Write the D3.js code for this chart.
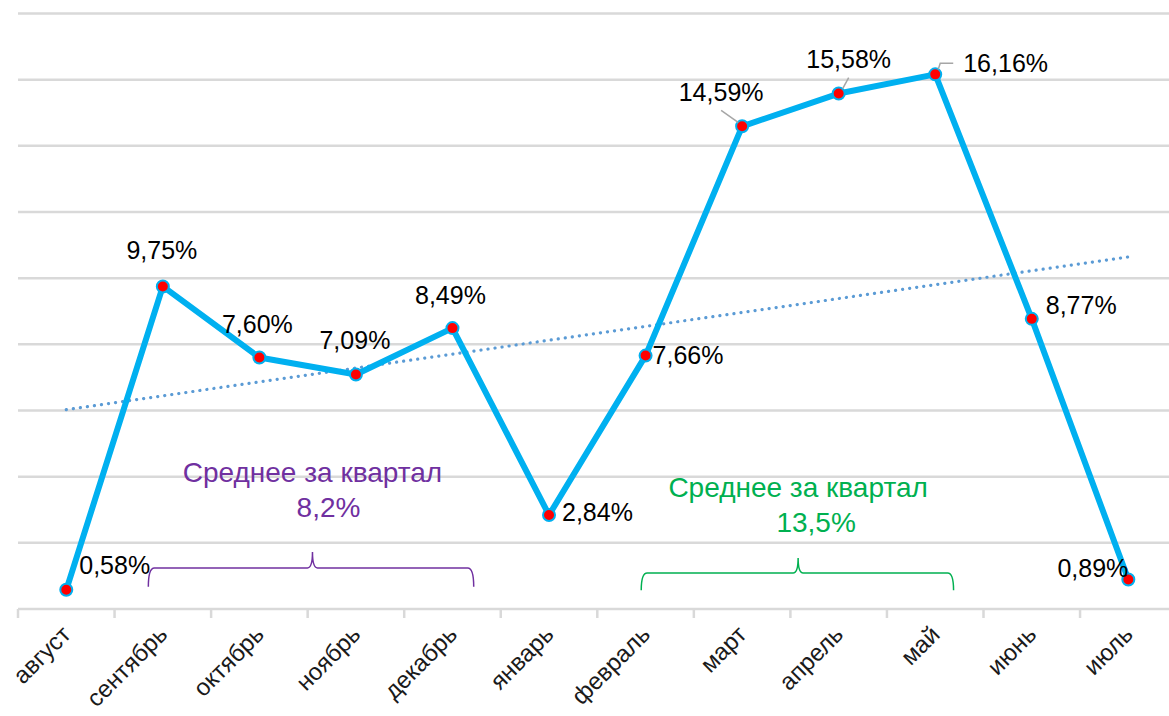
<!DOCTYPE html>
<html>
<head>
<meta charset="utf-8">
<script src="https://cdn.jsdelivr.net/npm/d3@7"></script>
<style>
  body { margin: 0; background: #fff; }
  text { font-family: 'Liberation Sans', Arial, Helvetica, sans-serif; }
</style>
</head>
<body>
<div id="chart"></div>
<script>
const months = ['август', 'сентябрь', 'октябрь', 'ноябрь', 'декабрь', 'январь',
  'февраль', 'март', 'апрель', 'май', 'июнь', 'июль']
const values = [0.58, 9.75, 7.60, 7.09, 8.49, 2.84, 7.66, 14.59, 15.58, 16.16, 8.77, 0.89]
const yTicks = [0, 2, 4, 6, 8, 10, 12, 14, 16, 18]

// quarter annotations (positions in month-index / value units)
const quarterTitles = ['Среднее за квартал', 'Среднее за квартал']
const quarterAverages = ['8,2%', '13,5%']
const quarterFrom = [0.85, 5.955]
const quarterTo = [4.22, 9.19]
const quarterPeak = [2.55, 7.58]

const W = 1169
const H = 716
const margin = { left: 18, top: 13.5 }
const bandW = 96.55
const plotH = 595.5

const svg = d3.select('#chart')
  .append('svg')
  .attr('width', W)
  .attr('height', H)

const x = d3.scaleBand()
  .domain(months)
  .range([margin.left, margin.left + bandW * months.length])
  .padding(0)

const y = d3.scaleLinear()
  .domain([0, 18])
  .range([margin.top + plotH, margin.top])

const cx = d => x(d) + x.bandwidth() / 2
const xi = d3.scaleLinear().domain([0, months.length - 1]).range([cx(months[0]), cx(months[months.length - 1])])

// gridlines
svg.append('g')
  .selectAll('line')
  .data(yTicks)
  .join('line')
    .attr('x1', margin.left)
    .attr('x2', W)
    .attr('y1', d => y(d))
    .attr('y2', d => y(d))
    .attr('stroke', '#d9d9d9')
    .attr('stroke-width', 2.5)

// category axis: ticks between categories
const axisY = y(0)
svg.append('g')
  .selectAll('line')
  .data(months)
  .join('line')
    .attr('x1', d => x(d))
    .attr('x2', d => x(d))
    .attr('y1', axisY)
    .attr('y2', axisY + 9)
    .attr('stroke', '#d9d9d9')
    .attr('stroke-width', 2.5)

svg.append('g')
  .selectAll('text')
  .data(months)
  .join('text')
    .attr('transform', d => `translate(${cx(d) + 6}, ${axisY + 27}) rotate(-45)`)
    .attr('text-anchor', 'end')
    .attr('font-size', '24px')
    .attr('fill', '#1a1a1a')
    .text(d => d)

// trend line (least squares)
const idx = values.map((v, i) => i)
const mx = d3.mean(idx)
const my = d3.mean(values)
const slope = d3.sum(idx, i => (i - mx) * (values[i] - my)) / d3.sum(idx, i => (i - mx) ** 2)
const icpt = my - slope * mx
svg.append('line')
  .attr('x1', xi(0))
  .attr('y1', y(icpt))
  .attr('x2', xi(months.length - 1))
  .attr('y2', y(icpt + slope * (months.length - 1)))
  .attr('stroke', '#5b9bd5')
  .attr('stroke-width', 3.2)
  .attr('stroke-linecap', 'round')
  .attr('stroke-dasharray', '0.1 7')

// main line
const line = d3.line()
  .x((d, i) => cx(months[i]))
  .y(d => y(d))

svg.append('path')
  .datum(values)
  .attr('d', line)
  .attr('fill', 'none')
  .attr('stroke', '#00b0f0')
  .attr('stroke-width', 6)
  .attr('stroke-linejoin', 'round')

svg.append('g')
  .selectAll('circle')
  .data(values)
  .join('circle')
    .attr('cx', (d, i) => cx(months[i]))
    .attr('cy', d => y(d))
    .attr('r', 6)
    .attr('fill', '#ff0000')
    .attr('stroke', '#00b0f0')
    .attr('stroke-width', 2)

// data label placement: [dx, dy, anchor]
const place = [
  [13, -16, 'start'], [-1, -27, 'middle'], [-2, -25, 'middle'], [-1, -25, 'middle'],
  [-2, -24, 'middle'], [13, 6, 'start'], [7, 8, 'start'], [-21, -25, 'middle'],
  [10, -26, 'middle'], [28, -2, 'start'], [14, -5, 'start'], [0, -3, 'end']
]
const fmt = v => v.toFixed(2).replace('.', ',') + '%'

// leader lines for the three top labels
const leaders = { 7: [[-21, -16], [-4, -4]], 8: [[10, -16], [4, -5]], 9: [[3, -5], [5, -11], [18, -11]] }
Object.entries(leaders).forEach(([i, pts]) => {
  const px = cx(months[i])
  const py = y(values[i])
  svg.append('path')
    .attr('d', d3.line()(pts.map(p => [px + p[0], py + p[1]])))
    .attr('fill', 'none')
    .attr('stroke', '#a6a6a6')
    .attr('stroke-width', 1.5)
})

svg.append('g')
  .selectAll('text')
  .data(values)
  .join('text')
    .attr('x', (d, i) => cx(months[i]) + place[i][0])
    .attr('y', (d, i) => y(d) + place[i][1])
    .attr('text-anchor', (d, i) => place[i][2])
    .attr('font-size', '25px')
    .attr('fill', '#000')
    .text(fmt)

// quarter braces
const qColors = ['#7030a0', '#00b050']
const braceLine = [1.24, 1.09]
const braceEnd = [0.67, 0.57]
const bracePeakV = [1.72, 1.54]
const titleDx = [0, 0]
const avgDx = [16, 18]
const titleY = [482, 497]

quarterTitles.forEach((t, q) => {
  const x0 = xi(quarterFrom[q])
  const x1 = xi(quarterTo[q])
  const xm = xi(quarterPeak[q])
  const yl = y(braceLine[q])
  const ye = y(braceEnd[q])
  const yp = y(bracePeakV[q])
  const p = d3.path()
  p.moveTo(x0, ye)
  p.quadraticCurveTo(x0, yl, x0 + 6, yl)
  p.lineTo(xm - 5, yl)
  p.quadraticCurveTo(xm, yl, xm, yp)
  p.quadraticCurveTo(xm, yl, xm + 5, yl)
  p.lineTo(x1 - 6, yl)
  p.quadraticCurveTo(x1, yl, x1, ye)
  svg.append('path')
    .attr('d', p.toString())
    .attr('fill', 'none')
    .attr('stroke', qColors[q])
    .attr('stroke-width', 1.5)

  svg.append('text')
    .attr('x', xm + titleDx[q])
    .attr('y', titleY[q])
    .attr('text-anchor', 'middle')
    .attr('font-size', '28px')
    .attr('fill', qColors[q])
    .text(t)
  svg.append('text')
    .attr('x', xm + avgDx[q])
    .attr('y', titleY[q] + 35)
    .attr('text-anchor', 'middle')
    .attr('font-size', '28px')
    .attr('fill', qColors[q])
    .text(quarterAverages[q])
})
</script>
</body>
</html>
